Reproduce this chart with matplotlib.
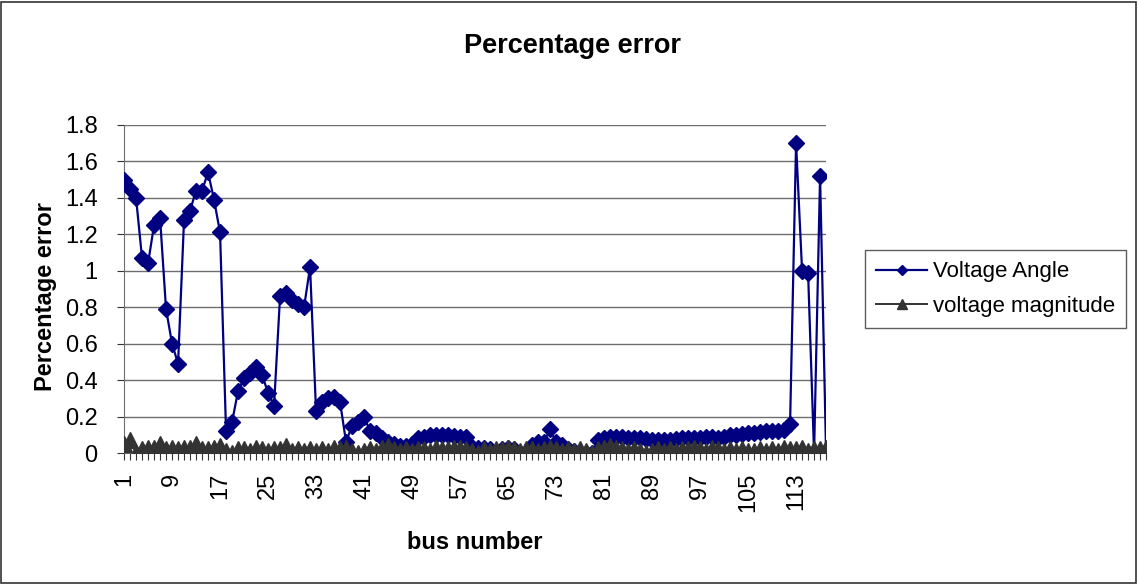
import numpy as np
import matplotlib
matplotlib.use("Agg")
import matplotlib.pyplot as plt
from matplotlib.patches import Rectangle

plt.rcParams['font.family'] = ['Liberation Sans', 'DejaVu Sans']

# data (IEEE 118 bus)
bus = list(range(1, 119))

voltage_angle = [
    1.50, 1.45, 1.40, 1.07, 1.04, 1.25, 1.29, 0.79, 0.60, 0.49,   # 1-10
    1.28, 1.33, 1.44, 1.44, 1.54, 1.39, 1.21, 0.12, 0.17, 0.34,   # 11-20
    0.41, 0.44, 0.47, 0.43, 0.33, 0.26, 0.86, 0.88, 0.84, 0.82,   # 21-30
    0.80, 1.02, 0.23, 0.28, 0.30, 0.31, 0.28, 0.06, 0.15, 0.17,   # 31-40
    0.20, 0.12, 0.11, 0.08, 0.06, 0.05, 0.04, 0.04, 0.05, 0.08,   # 41-50
    0.09, 0.10, 0.10, 0.10, 0.10, 0.095, 0.09, 0.09, 0.035, 0.025,  # 51-60
    0.03, 0.02, 0.00, 0.02, 0.025, 0.02, 0.00, 0.00, 0.045, 0.06,  # 61-70
    0.06, 0.13, 0.06, 0.045, 0.02, 0.01, 0.00, 0.00, 0.00, 0.07,  # 71-80
    0.08, 0.09, 0.09, 0.09, 0.08, 0.08, 0.08, 0.075, 0.07, 0.07,  # 81-90
    0.07, 0.07, 0.075, 0.08, 0.08, 0.08, 0.085, 0.09, 0.09, 0.085,  # 91-100
    0.09, 0.10, 0.10, 0.105, 0.11, 0.11, 0.115, 0.12, 0.12, 0.12,  # 101-110
    0.125, 0.16, 1.70, 1.00, 0.99, 0.00, 1.52, 0.00,             # 111-118
]

voltage_magnitude = [
    0.05, 0.07, 0.00, 0.02, 0.03, 0.03, 0.05, 0.02, 0.03, 0.02,
    0.03, 0.03, 0.05, 0.02, 0.02, 0.03, 0.04, 0.01, 0.00, 0.02,
    0.02, 0.01, 0.03, 0.02, 0.01, 0.02, 0.02, 0.04, 0.01, 0.02,
    0.01, 0.02, 0.01, 0.02, 0.01, 0.03, 0.02, 0.03, 0.01, 0.00,
    0.01, 0.02, 0.01, 0.03, 0.04, 0.02, 0.01, 0.02, 0.01, 0.02,
    0.02, 0.01, 0.03, 0.02, 0.02, 0.03, 0.03, 0.02, 0.01, 0.00,
    0.02, 0.01, 0.02, 0.02, 0.03, 0.02, 0.01, 0.02, 0.02, 0.01,
    0.02, 0.03, 0.02, 0.01, 0.02, 0.01, 0.02, 0.01, 0.00, 0.02,
    0.03, 0.04, 0.03, 0.02, 0.01, 0.02, 0.01, 0.00, 0.01, 0.02,
    0.01, 0.02, 0.01, 0.02, 0.02, 0.03, 0.02, 0.01, 0.03, 0.02,
    0.01, 0.02, 0.01, 0.02, 0.01, 0.01, 0.02, 0.01, 0.02, 0.01,
    0.03, 0.02, 0.02, 0.03, 0.01, 0.02, 0.02, 0.03,
]

fig = plt.figure(figsize=(11.38, 5.84), dpi=100)
fig.patches.append(Rectangle((0.001, 0.002), 0.997, 0.995, transform=fig.transFigure,
                             fill=False, edgecolor='#333333', linewidth=1.2))

ax = fig.add_axes([0.109, 0.2243, 0.6169, 0.5617])

ax.plot(bus, voltage_angle, color='#000080', lw=1.6, marker='D', ms=8,
        mfc='#000080', mec='#000080', label='Voltage Angle', zorder=3)
ax.plot(bus, voltage_magnitude, color='#333333', lw=1.4, marker='^', ms=11,
        mfc='#333333', mec='#333333', label='voltage magnitude', zorder=4)

ax.set_xlim(1, 118)
ax.set_ylim(0, 1.8)
ax.set_yticks(np.arange(0, 1.81, 0.2))
ax.set_yticklabels(['0', '0.2', '0.4', '0.6', '0.8', '1', '1.2', '1.4', '1.6', '1.8'])
ax.yaxis.grid(True, color='#6e6e6e', lw=1.0)
ax.set_axisbelow(True)

ax.set_xticks(range(1, 119, 8))
ax.set_xticklabels([str(b) for b in range(1, 119, 8)], rotation=90)
ax.set_xticks(bus, minor=True)
ax.tick_params(axis='x', which='both', length=5, width=0.8, color='#333333',
               labelsize=17, pad=9)
ax.tick_params(axis='y', length=5, width=0.8, color='#333333', labelsize=17, pad=14)

for s in ['top', 'right']:
    ax.spines[s].set_visible(False)
ax.spines['left'].set_color('#6e6e6e')
ax.spines['bottom'].set_color('#6e6e6e')

ax.set_xlabel('bus number', fontsize=17, fontweight='bold', va='center')
ax.xaxis.set_label_coords(0.5, -0.274)
ax.set_ylabel('Percentage error', fontsize=17, fontweight='bold', va='center')
ax.yaxis.set_label_coords(-0.1125, 0.476)
fig.text(0.503, 0.922, 'Percentage error', ha='center', va='center',
         fontsize=19.5, fontweight='bold')

leg = ax.legend(loc='center left', bbox_to_anchor=(865 / 1138, 1 - 289 / 584),
                bbox_transform=fig.transFigure, borderaxespad=0, fontsize=16,
                frameon=True, fancybox=False, edgecolor='#333333', handlelength=2.3,
                borderpad=0.5, labelspacing=0.6, handletextpad=0.25,
                markerscale=0.7)
leg.get_frame().set_linewidth(1.0)

plt.savefig('out.png', dpi=100)
plt.close()
